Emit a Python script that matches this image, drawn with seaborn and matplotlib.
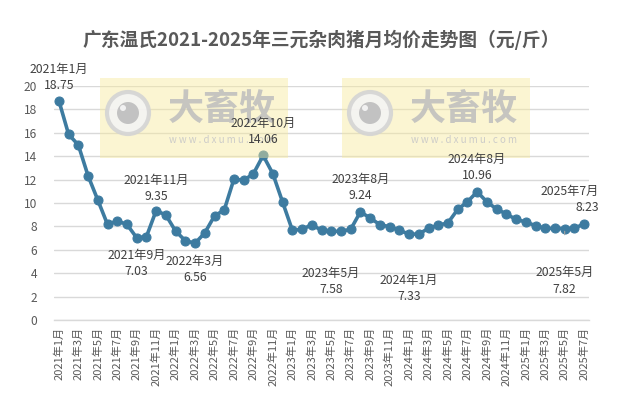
import matplotlib
matplotlib.use("Agg")
import matplotlib.pyplot as plt
import seaborn as sns
import pandas as pd
from matplotlib.patches import Rectangle, Circle

# ---------------- data ----------------
years = [2021] * 12 + [2022] * 12 + [2023] * 12 + [2024] * 12 + [2025] * 7
months = list(range(1, 13)) * 4 + list(range(1, 8))
prices = [
    18.75, 15.87, 14.96, 12.33, 10.26, 8.17, 8.46, 8.17, 7.03, 7.12, 9.35, 8.97,
    7.60, 6.78, 6.56, 7.44, 8.90, 9.40, 12.05, 11.94, 12.50, 14.06, 12.50, 10.08,
    7.68, 7.74, 8.15, 7.66, 7.58, 7.58, 7.75, 9.24, 8.72, 8.15, 7.97, 7.68,
    7.33, 7.35, 7.83, 8.10, 8.30, 9.45, 10.10, 10.96, 10.10, 9.48, 9.06, 8.60,
    8.38, 8.06, 7.83, 7.83, 7.82, 7.83, 8.23,
]
labels = [f"{y}年{m}月" for y, m in zip(years, months)]
title = "广东温氏2021-2025年三元杂肉猪月均价走势图（元/斤）"
yticks = [0, 2, 4, 6, 8, 10, 12, 14, 16, 18, 20]
# annotated points (index) with label/value vertical offsets in px (down positive)
annot_idx = [0, 8, 10, 14, 21, 28, 31, 36, 43, 52, 54]
annot_off = [(-31, -15), (18, 34), (-30, -14), (18, 34), (-32, -16), (42, 58),
             (-32, -16), (46, 62), (-32, -16), (44, 61), (-32, -16)]

df = pd.DataFrame({"idx": range(len(prices)), "price": prices, "label": labels})

# ---------------- style ----------------
sns.set_theme(style="white")
plt.rcParams["font.family"] = ["Noto Sans CJK SC", "DejaVu Sans"]
GREY = "#595959"
LINE = "#3d7ba0"

W, H = 621, 397
fig = plt.figure(figsize=(W / 100, H / 100), dpi=100)
fig.patch.set_facecolor("white")
pos = [54 / W, 77 / H, 535 / W, 234 / H]
ax = fig.add_axes(pos)

sns.lineplot(data=df, x="idx", y="price", ax=ax, color=LINE, linewidth=2.6,
             marker="o", markersize=6.5, markeredgecolor=LINE, markerfacecolor=LINE,
             zorder=3, legend=False)

xlim = (-0.5, len(prices) - 0.5)
ax.set_xlim(*xlim)
ax.set_ylim(0, 20)
ax.set_yticks(yticks)
ax.set_yticklabels([str(v) for v in yticks], fontsize=8.6, color=GREY)
ax.set_xticks(range(0, len(prices), 2))
ax.set_xticklabels(labels[::2], rotation=90, fontsize=8.0, color=GREY)
ax.tick_params(axis="y", length=0, pad=12)
ax.tick_params(axis="x", length=3, color="#d9d9d9", pad=2, direction="out")
ax.set_xlabel("")
ax.set_ylabel("")
ax.grid(axis="y", color="#d9d9d9", linewidth=1.0)
ax.set_axisbelow(True)
for s in ["top", "right", "left"]:
    ax.spines[s].set_visible(False)
ax.spines["bottom"].set_color("#d9d9d9")
ax.spines["bottom"].set_linewidth(1.0)

# title
fig.text(321 / W, 1 - 40 / H, title, ha="center", va="center",
         fontsize=13.5, fontweight="bold", color=GREY)

# watermarks (drawn over the line, semi-transparent)
def px(x, y):
    return x / W, 1 - y / H

for x0 in [100, 342]:
    fig.patches.append(Rectangle(px(x0, 158), 188 / W, 80 / H, transform=fig.transFigure,
                                 facecolor="#f7ea9c", alpha=0.45, edgecolor="none", zorder=10))
    fig.patches.append(Circle((x0 + 28, H - 113), 21, transform=None,
                              facecolor="#f4f4f4", edgecolor="#d4d4d4", lw=3,
                              alpha=0.9, zorder=11))
    fig.patches.append(Circle((x0 + 28, H - 113), 11, transform=None,
                              facecolor="#c0c0c0", edgecolor="none", alpha=0.95, zorder=12))
    fig.patches.append(Circle((x0 + 23, H - 108), 3, transform=None,
                              facecolor="#f4f4f4", edgecolor="none", alpha=0.95, zorder=13))
    fig.text(*px(x0 + 122, 109), "大畜牧", ha="center", va="center", fontsize=26,
             fontweight="bold", color="#bdbdbd", alpha=0.85, zorder=12)
    fig.text(*px(x0 + 122, 140), "w w w . d x u m u . c o m", ha="center", va="center",
             fontsize=7, color="#c8c8c8", alpha=0.9, zorder=12)

# overlay axes for the data labels (on top of watermark)
ax2 = fig.add_axes(pos, zorder=20)
ax2.set_xlim(*xlim)
ax2.set_ylim(0, 20)
ax2.axis("off")
ax2.patch.set_alpha(0)

for i, (o1, o2) in zip(annot_idx, annot_off):
    ha = "center"
    dx = 0
    if i == len(prices) - 1:
        ha = "right"
        dx = 15
    ax2.annotate(labels[i], (i, prices[i]), xytext=(dx * 0.72, -o1 * 0.72),
                 textcoords="offset points", ha=ha, va="center",
                 fontsize=8.8, color="#404040", annotation_clip=False)
    ax2.annotate(f"{prices[i]:.2f}", (i, prices[i]), xytext=(dx * 0.72, -o2 * 0.72),
                 textcoords="offset points", ha=ha, va="center",
                 fontsize=8.8, color="#404040", annotation_clip=False)
    if i == 52:
        ax2.annotate("", (i, prices[i]), xytext=(0, -9 * 0.72),
                     textcoords="offset points",
                     arrowprops=dict(arrowstyle="-", color="#a6a6a6", lw=0.8))

fig.savefig("out.png", dpi=100)
